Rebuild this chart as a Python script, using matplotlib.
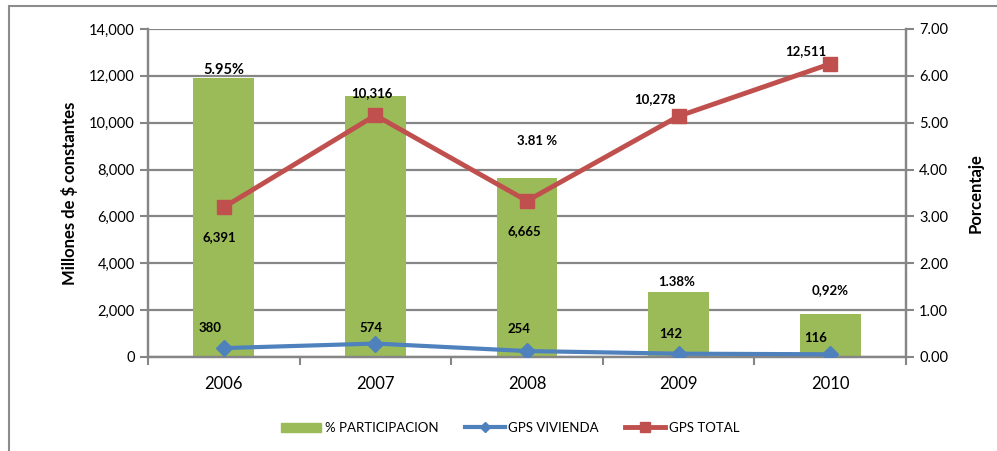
import matplotlib.pyplot as plt
from matplotlib.patches import Rectangle, Patch
from matplotlib.lines import Line2D

plt.rcParams['font.family'] = ['Lato', 'DejaVu Sans']

YEARS = ['2006', '2007', '2008', '2009', '2010']
PARTICIPACION = [5.95, 5.56, 3.81, 1.38, 0.92]
GPS_VIVIENDA = [380, 574, 254, 142, 116]
GPS_TOTAL = [6391, 10316, 6665, 10278, 12511]
PCT_LABELS = ['5.95%', None, '3.81 %', '1.38%', '0,92%']

GREEN = '#9BBB59'
BLUE = '#4F81BD'
RED = '#C0504D'
GRID = '#868686'

# label offsets in pixels (dx, dy)
TOTAL_OFF = [(-4, -30), (-4, 22), (-3, -30), (-24, 17), (-24, 13)]
VIV_OFF = [(-14, 20), (-4, 16), (-8, 22), (-8, 20), (-15, 16)]
PCT_OFF = [(0, 8), None, (10, 37), (-2, 10), (0, 24)]

fig = plt.figure(figsize=(9.97, 4.51), dpi=100)
fig.patches.append(Rectangle((9 / 997, -0.1), 1.2, 1 - 6 / 451 + 0.1, transform=fig.transFigure,
                             fill=False, edgecolor='#8C8C8C', linewidth=1.5))

ax2 = fig.add_axes([148 / 997, 94 / 451, 758 / 997, 328 / 451])
ax = ax2.twinx()
ax.yaxis.tick_left()
ax.yaxis.set_label_position('left')
ax2.yaxis.tick_right()
ax2.yaxis.set_label_position('right')
ax.set_zorder(ax2.get_zorder() + 1)
ax.patch.set_visible(False)

x = list(range(len(YEARS)))

# bars on the percentage axis
ax2.bar(x, PARTICIPACION, width=0.4, color=GREEN, zorder=2)
ax2.set_ylim(0, 7)
ax2.set_yticks([i for i in range(8)])
ax2.set_yticklabels([f'{i:.2f}' for i in range(8)], fontsize=10.5)
ax2.grid(axis='y', color=GRID, linewidth=1.6, zorder=0)
ax2.set_axisbelow(True)
ax2.set_xlim(-0.5, len(YEARS) - 0.5)
ax2.set_xticks([i - 0.5 for i in range(len(YEARS) + 1)])
ax2.set_xticklabels([])
ax2.set_xticks(x, minor=True)
ax2.set_xticklabels(YEARS, minor=True, fontsize=12)
ax2.tick_params(axis='x', which='major', length=6, width=1.5, color=GRID)
ax2.tick_params(axis='x', which='minor', length=0, pad=14)
ax2.tick_params(axis='y', length=6, width=1.5, color=GRID)
ax2.set_ylabel('Porcentaje', fontsize=12, fontweight='bold', labelpad=14)

for i, (v, lab, off) in enumerate(zip(PARTICIPACION, PCT_LABELS, PCT_OFF)):
    if lab is None:
        continue
    fs = 10.5 if i == 0 else 9.5
    ax2.annotate(lab, (i, v), xytext=off, textcoords='offset pixels', ha='center', va='center',
                 fontsize=fs, fontweight='bold')

# lines on the money axis
ax.plot(x, GPS_VIVIENDA, color=BLUE, linewidth=3, marker='D', markersize=8.5, zorder=3)
ax.plot(x, GPS_TOTAL, color=RED, linewidth=3.5, marker='s', markersize=10.5, zorder=4)
ax.set_ylim(0, 14000)
ax.set_yticks(range(0, 14001, 2000))
ax.set_yticklabels([f'{v:,}' for v in range(0, 14001, 2000)], fontsize=10.5)
ax.tick_params(axis='y', length=6, width=1.5, color=GRID)
ax.set_ylabel('Millones de $ constantes', fontsize=12, fontweight='bold', labelpad=8)

for i, (v, off) in enumerate(zip(GPS_TOTAL, TOTAL_OFF)):
    ax.annotate(f'{v:,}', (i, v), xytext=off, textcoords='offset pixels', ha='center', va='center',
                fontsize=9.5, fontweight='bold')
for i, (v, off) in enumerate(zip(GPS_VIVIENDA, VIV_OFF)):
    ax.annotate(f'{v:,}', (i, v), xytext=off, textcoords='offset pixels', ha='center', va='center',
                fontsize=9.5, fontweight='bold')

for a in (ax, ax2):
    for s in a.spines.values():
        s.set_color(GRID)
        s.set_linewidth(1.6)
    a.spines['top'].set_visible(False)

handles = [Patch(color=GREEN, label='% PARTICIPACION'),
           Line2D([0], [0], color=BLUE, linewidth=3, marker='D', markersize=5, label='GPS VIVIENDA'),
           Line2D([0], [0], color=RED, linewidth=3.5, marker='s', markersize=6.5, label='GPS TOTAL')]
fig.legend(handles=handles, loc='center', bbox_to_anchor=(0.512, 0.051), ncol=3, frameon=False,
           fontsize=9.5, handlelength=3.0, columnspacing=2.0, handletextpad=0.3)

fig.savefig('out.png', dpi=100)
